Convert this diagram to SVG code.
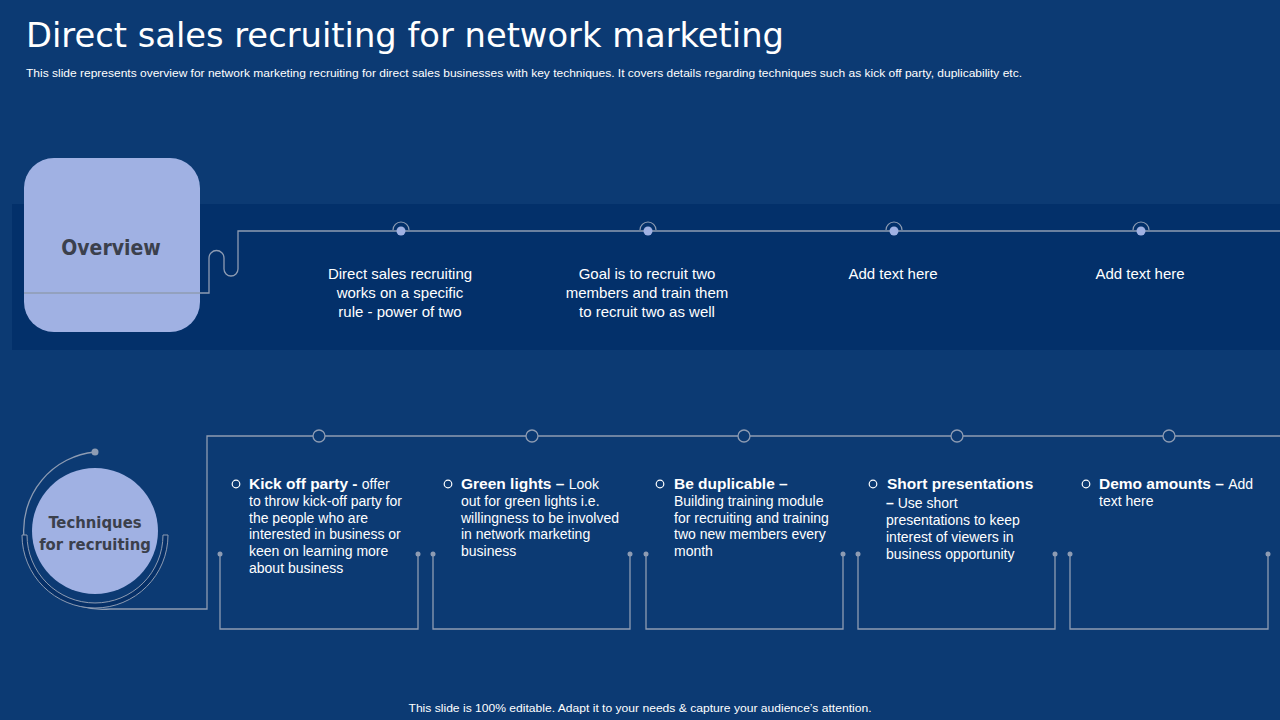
<svg xmlns="http://www.w3.org/2000/svg" width="1280" height="720" viewBox="0 0 1280 720">
<style>
.t{font-family:"Liberation Sans",Arial,sans-serif;fill:#ffffff}
.h{font-family:"DejaVu Sans Condensed","DejaVu Sans",sans-serif;font-weight:bold;fill:#3b404c}
.ln{fill:none;stroke:#8e9cb3;stroke-width:1.3}
.body{font-size:14px}
.b{font-weight:bold;font-size:15.5px}
.hole{fill:none;stroke:#ffffff;stroke-width:1.2}
</style>
<rect width="1280" height="720" fill="#0c3a73"/>
<text class="t" x="26" y="47" style="font-family:'DejaVu Sans Condensed',sans-serif;font-size:34px" textLength="758" lengthAdjust="spacingAndGlyphs">Direct sales recruiting for network marketing</text>
<text class="t" x="26" y="77" style="font-size:11px" textLength="996" lengthAdjust="spacingAndGlyphs">This slide represents overview for network marketing recruiting for direct sales businesses with key techniques. It covers details regarding techniques such as kick off party,  duplicability etc.</text>
<rect x="12" y="204" width="1268" height="146" fill="#03306a"/>
<g id="overview">
<rect x="24" y="158" width="176" height="174" rx="30" fill="#a0b1e3"/>
<text class="h" x="111" y="255" text-anchor="middle" style="font-size:21px">Overview</text>
</g>
<g id="connectors">
<path class="ln" d="M24 293 H209 V258 A7.5 7.5 0 0 1 224 258 V269 A7 7 0 0 0 238 269 V231 H1280"/>
<path class="ln" d="M95 452 A78 78 0 1 0 110 609 H207 V436 H1280"/>
<path d="M27 535 A68 68 0 0 0 163 535 H168 A73 73 0 0 1 22 535 Z" fill="#063068" stroke="#8e9cb3" stroke-width="1"/>
<circle cx="95" cy="452" r="3.5" fill="#8e9cb3"/>
<g fill="none" stroke="#8e9cb3" stroke-width="1.2">
<path d="M393 230 A8 8 0 0 1 409 230"/><path d="M640 230 A8 8 0 0 1 656 230"/><path d="M886 230 A8 8 0 0 1 902 230"/><path d="M1133 230 A8 8 0 0 1 1149 230"/>
</g>
<g fill="#a0b1e3"><circle cx="401" cy="231" r="4.5"/><circle cx="648" cy="231" r="4.5"/><circle cx="894" cy="231" r="4.5"/><circle cx="1141" cy="231" r="4.5"/></g>
<g fill="#0c3a73" stroke="#8e9cb3" stroke-width="1.3">
<circle cx="319" cy="436" r="6"/><circle cx="532" cy="436" r="6"/><circle cx="744" cy="436" r="6"/><circle cx="957" cy="436" r="6"/><circle cx="1169" cy="436" r="6"/>
</g>
<path class="ln" d="M220 554 V629 H418 V554 M433 554 V629 H630 V554 M646 554 V629 H843 V554 M858 554 V629 H1055 V554 M1070 554 V629 H1268 V554"/>
<g fill="#8e9cb3">
<circle cx="220" cy="554" r="2.5"/><circle cx="418" cy="554" r="2.5"/><circle cx="433" cy="554" r="2.5"/><circle cx="630" cy="554" r="2.5"/><circle cx="646" cy="554" r="2.5"/><circle cx="843" cy="554" r="2.5"/><circle cx="858" cy="554" r="2.5"/><circle cx="1055" cy="554" r="2.5"/><circle cx="1070" cy="554" r="2.5"/><circle cx="1268" cy="554" r="2.5"/>
</g>
</g>
<g id="p1" class="t" text-anchor="middle" style="font-size:15px"><text x="400" y="279">Direct sales recruiting</text><text x="400" y="298">works on a specific</text><text x="400" y="317">rule - power of two</text></g>
<g id="p2" class="t" text-anchor="middle" style="font-size:15px"><text x="647" y="279">Goal is to recruit two</text><text x="647" y="298">members and train them</text><text x="647" y="317">to recruit two as well</text></g>
<g id="p3" class="t" text-anchor="middle" style="font-size:15px"><text x="893" y="279">Add text here</text></g>
<g id="p4" class="t" text-anchor="middle" style="font-size:15px"><text x="1140" y="279">Add text here</text></g>
<g id="techniques">
<circle cx="95" cy="531" r="63" fill="#a0b1e3"/>
<text class="h" x="95" y="528" text-anchor="middle" style="font-size:16.5px">Techniques</text>
<text class="h" x="95" y="550" text-anchor="middle" style="font-size:16.5px">for recruiting</text>
</g>
<g id="t1" class="t body">
<circle class="hole" cx="236" cy="484" r="3.8"/>
<text x="249" y="489"><tspan class="b">Kick off party - </tspan>offer</text>
<text x="249" y="506">to throw kick-off party for</text>
<text x="249" y="523">the people who are</text>
<text x="249" y="539">interested in business or</text>
<text x="249" y="556">keen on learning more</text>
<text x="249" y="573">about business</text>
</g>
<g id="t2" class="t body">
<circle class="hole" cx="448" cy="484" r="3.8"/>
<text x="461" y="489"><tspan class="b">Green lights – </tspan>Look</text>
<text x="461" y="506">out for green lights i.e.</text>
<text x="461" y="523">willingness to be involved</text>
<text x="461" y="539">in network marketing</text>
<text x="461" y="556">business</text>
</g>
<g id="t3" class="t body">
<circle class="hole" cx="660" cy="484" r="3.8"/>
<text x="674" y="489"><tspan class="b">Be duplicable –</tspan></text>
<text x="674" y="506">Building training module</text>
<text x="674" y="523">for recruiting and training</text>
<text x="674" y="539">two new members every</text>
<text x="674" y="556">month</text>
</g>
<g id="t4" class="t body">
<circle class="hole" cx="873" cy="484" r="3.8"/>
<text x="887" y="489"><tspan class="b">Short presentations</tspan></text>
<text x="886" y="508"><tspan font-weight="bold">– </tspan>Use short</text>
<text x="886" y="525">presentations to keep</text>
<text x="886" y="542">interest of viewers in</text>
<text x="886" y="559">business opportunity</text>
</g>
<g id="t5" class="t body">
<circle class="hole" cx="1086" cy="484" r="3.8"/>
<text x="1099" y="489"><tspan class="b">Demo amounts – </tspan>Add</text>
<text x="1099" y="506">text here</text>
</g>
<text class="t" x="640" y="712" text-anchor="middle" style="font-size:11px" textLength="463" lengthAdjust="spacingAndGlyphs">This slide is 100% editable. Adapt it to your needs &amp; capture your audience’s attention.</text>
</svg>
